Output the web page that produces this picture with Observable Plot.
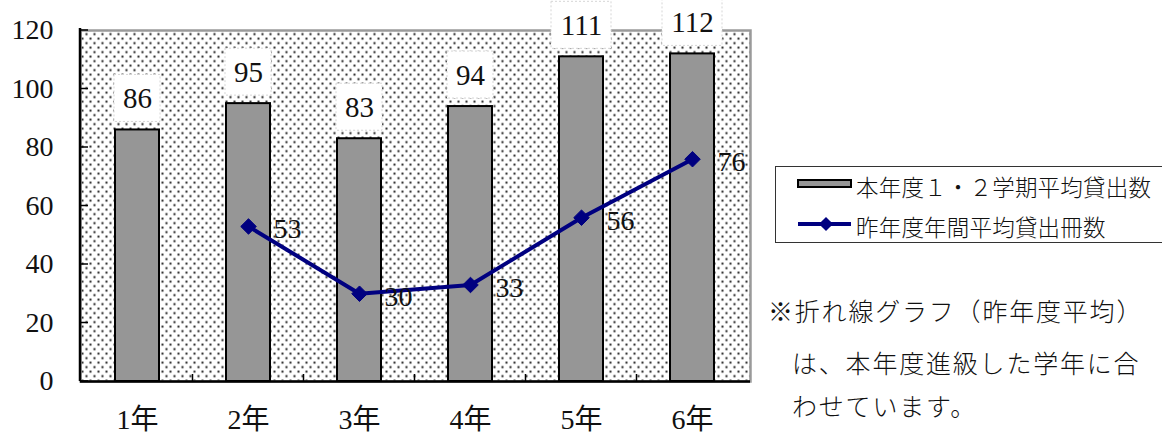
<!DOCTYPE html>
<html><head><meta charset="utf-8">
<script src="https://cdn.jsdelivr.net/npm/d3@7"></script>
<script src="https://cdn.jsdelivr.net/npm/@observablehq/plot@0.6"></script>
<style>
html,body{margin:0;padding:0;background:#fff;overflow:hidden;}
#wrap{position:relative;width:1162px;height:439px;overflow:hidden;}
#chart{position:absolute;left:0;top:0;}
#chart svg text{font-family:"Liberation Serif","DejaVu Serif","Noto Sans CJK JP",serif !important;}
.jp{font-family:"Noto Sans CJK JP","Noto Sans",sans-serif;font-weight:300;color:#111;position:absolute;white-space:nowrap;}
#legend{position:absolute;left:775px;top:166px;width:420px;height:77px;border:1.5px solid #333;box-sizing:border-box;background:#fff;}
#legend svg{position:absolute;left:0;top:0;}
.lt{font-size:22.5px;line-height:28px;letter-spacing:0.2px;left:80px;}
.nt{font-size:25px;line-height:30px;letter-spacing:1.8px;}
</style></head><body>
<div id="wrap">
  <div id="chart"></div>
  <div id="legend">
    <svg width="80" height="77">
      <rect x="22" y="13" width="53" height="7" fill="#969696" stroke="#000" stroke-width="2"></rect>
      <line x1="22" y1="57" x2="75" y2="57" stroke="#000080" stroke-width="4"></line>
      <rect x="45" y="50" width="10" height="10" fill="#000080" transform="rotate(45 50 57) translate(0 2)"></rect>
    </svg>
    <div class="jp lt" id="lg1" style="top:5px"></div>
    <div class="jp lt" id="lg2" style="top:45px"></div>
  </div>
  <div class="jp nt" id="n1" style="left:768px;top:295px"></div>
  <div class="jp nt" id="n2" style="left:792px;top:347px"></div>
  <div class="jp nt" id="n3" style="left:792px;top:390px"></div>
</div>
<script>
// ---- data ----
const grades = ["1年", "2年", "3年", "4年", "5年", "6年"];
const thisYear = [86, 95, 83, 94, 111, 112];
const lastYearGrades = ["2年", "3年", "4年", "5年", "6年"];
const lastYear = [53, 30, 33, 56, 76];
const yTicks = [0, 20, 40, 60, 80, 100, 120];
const legendLabels = ["本年度１・２学期平均貸出数", "昨年度年間平均貸出冊数"];
const noteLines = ["※折れ線グラフ（昨年度平均）", "は、本年度進級した学年に合", "わせています。"];

const bars = grades.map((g, i) => ({grade: g, value: thisYear[i]}));
const prev = lastYearGrades.map((g, i) => ({grade: g, value: lastYear[i]}));

document.getElementById("lg1").textContent = legendLabels[0];
document.getElementById("lg2").textContent = legendLabels[1];
document.getElementById("n1").textContent = noteLines[0];
document.getElementById("n2").textContent = noteLines[1];
document.getElementById("n3").textContent = noteLines[2];

const serif = "Liberation Serif, DejaVu Serif, Noto Sans CJK JP, serif";
const NS = "http://www.w3.org/2000/svg";
function el(name, attrs) {
  const e = document.createElementNS(NS, name);
  for (const k in attrs) e.setAttribute(k, attrs[k]);
  return e;
}

// pattern definition
const defsMark = () => {
  const g = el("g", {});
  const defs = el("defs", {});
  const p = el("pattern", {id: "dots", patternUnits: "userSpaceOnUse", width: 8, height: 9});
  p.appendChild(el("rect", {x: 0, y: 0, width: 8, height: 9, fill: "#fff"}));
  p.appendChild(el("circle", {cx: 2, cy: 2.2, r: 1.15, fill: "#222"}));
  p.appendChild(el("circle", {cx: 6, cy: 6.7, r: 1.15, fill: "#222"}));
  defs.appendChild(p);
  g.appendChild(defs);
  return g;
};

// inward ticks + left axis line
const axisDecor = (index, scales, values, dims) => {
  const g = el("g", {stroke: "#000", "stroke-width": 1.5});
  const x0 = dims.marginLeft;
  const yb = dims.height - dims.marginBottom;
  for (const v of yTicks) {
    const y = scales.y(v);
    g.appendChild(el("line", {x1: x0, x2: x0 + 8, y1: y, y2: y}));
  }
  const x = scales.x;
  const gap = (x.step() - x.bandwidth()) / 2;
  for (const gr of grades.slice(1)) {
    const bx = x(gr) - gap;
    g.appendChild(el("line", {x1: bx, x2: bx, y1: yb, y2: yb - 7}));
  }
  g.appendChild(el("line", {x1: x0, x2: x0, y1: dims.marginTop - 2, y2: yb, "stroke-width": 2.5}));
  return g;
};

const chart = Plot.plot({
  width: 1162,
  height: 439,
  marginLeft: 80,
  marginRight: 412,
  marginTop: 30,
  marginBottom: 58,
  style: {fontFamily: serif, fontSize: "27px", color: "#111", background: "transparent", overflow: "visible"},
  x: {domain: grades, paddingInner: 0.6, paddingOuter: 0.3, label: null},
  y: {domain: [0, 120], label: null},
  marks: [
    defsMark,
    Plot.frame({fill: "url(#dots)", stroke: "#9a9a9a", strokeWidth: 2.5}),
    Plot.barY(bars, {x: "grade", y1: 0, y2: "value", fill: "#969696", stroke: "#000", strokeWidth: 2}),
    Plot.barY(bars.filter(d => d.value < 100), {x: "grade", y1: "value", y2: "value", insetTop: -55, insetBottom: 8, insetLeft: -1, insetRight: -1, fill: "#fff", stroke: "#d6d6d6", strokeDasharray: "2,2", strokeWidth: 1}),
    Plot.barY(bars.filter(d => d.value >= 100), {x: "grade", y1: "value", y2: "value", insetTop: -55, insetBottom: 8, insetLeft: -8, insetRight: -8, fill: "#fff", stroke: "#d6d6d6", strokeDasharray: "2,2", strokeWidth: 1}),
    Plot.text(bars, {x: "grade", y: "value", text: d => String(d.value), dy: -31, fontSize: 29, fontFamily: serif, fill: "#111"}),
    Plot.ruleY([0], {stroke: "#000", strokeWidth: 2.5}),
    axisDecor,
    Plot.axisY({ticks: yTicks, tickSize: 0, tickPadding: 27, fontSize: 28, fontFamily: serif, label: null}),
    Plot.axisX({tickSize: 0, tickPadding: 28, fontSize: 28, fontFamily: serif, label: null}),
    Plot.line(prev, {x: "grade", y: "value", stroke: "#000080", strokeWidth: 4}),
    Plot.dot(prev, {x: "grade", y: "value", symbol: "diamond2", r: 7, fill: "#000080", stroke: "#000080", strokeWidth: 1}),
    Plot.text(prev, {x: "grade", y: "value", text: d => String(d.value), dx: 25, dy: 3, textAnchor: "start", fontSize: 28, fontFamily: serif, fill: "#111"})
  ]
});
document.getElementById("chart").appendChild(chart);
</script>
</body></html>
